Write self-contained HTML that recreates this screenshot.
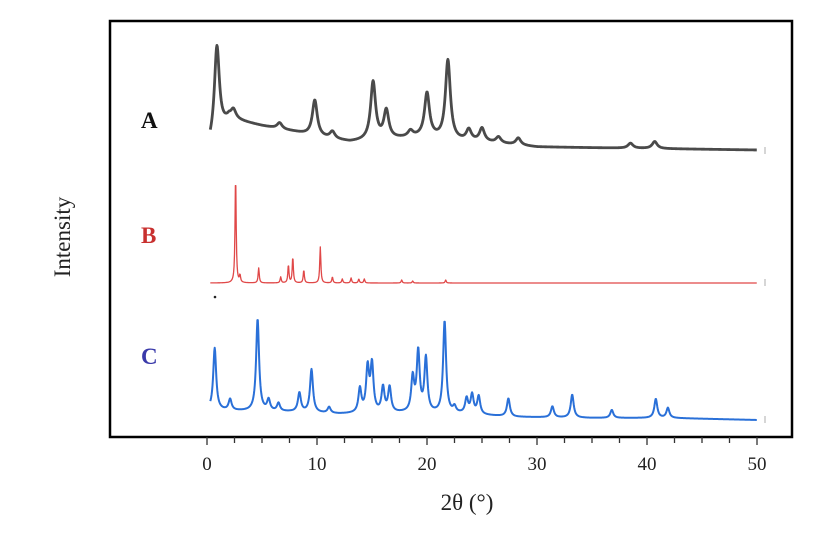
<!DOCTYPE html>
<html><head><meta charset="utf-8"><style>
body{margin:0;background:#fff;}
svg text{font-family:"Liberation Serif",serif;}
</style></head><body>
<svg width="818" height="546" viewBox="0 0 818 546">
<rect x="110" y="21" width="682" height="416" fill="none" stroke="#000" stroke-width="2.5"/>
<g id="ticks"></g>
<g id="series"></g>
<text x="141" y="128" font-size="23" font-weight="bold" fill="#111">A</text>
<text x="141" y="243" font-size="23" font-weight="bold" fill="#c8302f">B</text>
<text x="141" y="364" font-size="23" font-weight="bold" fill="#3a3aaa">C</text>
<text transform="translate(70,237) rotate(-90)" text-anchor="middle" font-size="23" fill="#222">Intensity</text>
<text x="467" y="510" text-anchor="middle" font-size="23" fill="#222">2θ (°)</text>
<circle cx="215" cy="297" r="1.3" fill="#222"/>
</svg>
<script>
const tickValues=[0,10,20,30,40,50];
const baseA_x=[0.3,2,5,8,10,13,17,20,22,25,30,50];
const baseA_y=[6,32,25,19,14,9,12,14,10,9,4,1];
const peaksA_x=[0.9,2.4,6.6,9.8,11.4,15.1,16.3,18.5,20.0,21.9,23.8,25.0,26.5,28.3,38.5,40.7];
const peaksA_h=[90,9,6,36,7,58,28,6,43,80,11,13,6,7,5,7];
const baseB_x=[0.3,50];
const baseB_y=[0,0];
const peaksB_x=[2.6,3.0,4.7,6.7,7.4,7.8,8.8,10.3,11.4,12.3,13.1,13.8,14.3,17.7,18.7,21.7];
const peaksB_h=[108,7,15,6,18,26,13,36,6,4,5,4,4,3,2,3];
const baseC_x=[0.3,3,8,12,18,23,28,35,42,50];
const baseC_y=[10,9,8,6,7,6,3,2,2,0];
const peaksC_x=[0.7,2.1,4.6,5.6,6.5,8.4,9.5,11.1,13.9,14.6,15.0,16.0,16.6,18.7,19.2,19.9,21.6,22.5,23.6,24.1,24.7,27.4,31.4,33.2,36.8,40.8,41.9];
const peaksC_h=[62,11,92,11,8,19,43,6,24,44,47,25,25,34,60,54,92,6,15,19,18,18,11,23,8,19,10];

const X0=207,PX=11.0;
function xs(v){return X0+v*PX;}
function ys(base,v){return base-v;}
const NS='http://www.w3.org/2000/svg';
const tg=document.getElementById('ticks');
for(let v=0;v<=50;v+=2.5){
  const t=document.createElementNS(NS,'line');
  
  
  t.setAttribute('x1',xs(v));t.setAttribute('x2',xs(v));
  t.setAttribute('y1',437);t.setAttribute('y2',v%10===0?445:443);
  t.setAttribute('stroke','#333');t.setAttribute('stroke-width','1.3');
  tg.appendChild(t);
}
tickValues.forEach(v=>{
  const t=document.createElementNS(NS,'text');
  
  
  t.setAttribute('x',xs(v));t.setAttribute('y',470);
  t.setAttribute('text-anchor','middle');t.setAttribute('font-size','19');t.setAttribute('fill','#222');
  t.textContent=v;tg.appendChild(t);
});
function interp(xa,ya,x){
  if(x<=xa[0])return ya[0];
  for(let i=1;i<xa.length;i++){if(x<=xa[i]){const f=(x-xa[i-1])/(xa[i]-xa[i-1]);return ya[i-1]+f*(ya[i]-ya[i-1]);}}
  return ya[ya.length-1];
}
function build(bx,by,px,ph,w,base,x0,color,sw,name){
  let d='';
  for(let x=x0;x<=50.0001;x+=0.04){
    let v=interp(bx,by,x);
    for(let i=0;i<px.length;i++){const u=(x-px[i])/w;v+=ph[i]/(1+u*u);}
    d+=(d?'L':'M')+xs(x).toFixed(2)+','+ys(base,v).toFixed(2);
  }
  const p=document.createElementNS(NS,'path');
  
  
  p.setAttribute('d',d);p.setAttribute('fill','none');p.setAttribute('stroke',color);
  p.setAttribute('stroke-width',sw);p.setAttribute('stroke-linejoin','round');
  document.getElementById('series').appendChild(p);
  const m=document.createElementNS(NS,'line');
  
  
  m.setAttribute('x1',xs(50)+8);m.setAttribute('x2',xs(50)+8);
  m.setAttribute('y1',base-4);m.setAttribute('y2',base+3);
  m.setAttribute('stroke','#bbb');m.setAttribute('stroke-width','1.2');
  document.getElementById('series').appendChild(m);
}
build(baseA_x,baseA_y,peaksA_x,peaksA_h,0.27,151,0.3,'#4a4a4a',2.8,'series-a-line');
build(baseB_x,baseB_y,peaksB_x,peaksB_h,0.06,283,0.3,'#e04848',1.3,'series-b-line');
build(baseC_x,baseC_y,peaksC_x,peaksC_h,0.16,420,0.3,'#2a70d8',2.0,'series-c-line');
</script>
</body></html>
